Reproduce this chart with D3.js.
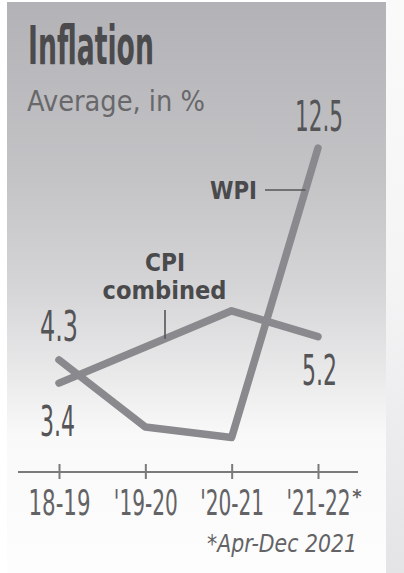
<!DOCTYPE html>
<html><head><meta charset="utf-8">
<script src="https://cdn.jsdelivr.net/npm/d3@7"></script>
<style>
html,body{margin:0;padding:0;background:#fff;}
svg{display:block;}
text{font-family:"Liberation Sans Narrow","DejaVu Sans Condensed","Roboto",sans-serif;}
</style></head>
<body>
<svg id="c" width="404" height="573"></svg>
<script>
const categories = ["18-19", "'19-20", "'20-21", "'21-22"];
const wpi = [4.3, 1.7, 1.3, 12.5];
const cpi = [3.4, 4.8, 6.2, 5.2];
const title = "Inflation";
const subtitle = "Average, in %";
const footnote = "*Apr-Dec 2021";

const svg = d3.select("#c");
const defs = svg.append("defs");
const g1 = defs.append("linearGradient").attr("id","panel").attr("x1",0).attr("y1",0).attr("x2",0).attr("y2",1);
[[0,"#b3b3b7"],[0.3,"#c3c3c6"],[0.5,"#d5d5d7"],[0.65,"#e9e9ea"],[0.76,"#f9f9f9"],[1,"#fdfdfd"]]
  .forEach(([o,c])=>g1.append("stop").attr("offset",o).attr("stop-color",c));
const g2 = defs.append("linearGradient").attr("id","strip").attr("x1",0).attr("y1",0).attr("x2",0).attr("y2",1);
[[0,"#fafafa"],[0.5,"#f4f4f5"],[1,"#e4e4e6"]]
  .forEach(([o,c])=>g2.append("stop").attr("offset",o).attr("stop-color",c));

svg.append("rect").attr("x",386).attr("y",0).attr("width",18).attr("height",573).attr("fill","url(#strip)");
svg.append("rect").attr("x",7).attr("y",2).attr("width",379).attr("height",571).attr("fill","url(#panel)");

const x = d3.scalePoint().domain(categories).range([59, 318]);
const y = d3.scaleLinear().domain([0, 12.5]).range([471, 148]);

// place text condensed horizontally to a target width
function fit(parent, txt, px, py, w, opts){
  const t = parent.append("text").text(txt)
    .attr("font-size",opts.size).attr("fill",opts.fill||"#58585b")
    .attr("font-weight",opts.weight||"normal")
    .attr("font-style",opts.style||"normal")
    .attr("text-anchor",opts.anchor||"start");
  const nat = t.node().getComputedTextLength();
  const k = w / nat;
  t.attr("transform",`translate(${px},${py}) scale(${k},1)`);
  return t;
}

// Title
fit(svg, title, 28, 64, 126, {size:54, weight:"bold", fill:"#4b4b4e"});
fit(svg, subtitle, 27, 111, 178, {size:29, fill:"#68686b"});

// Axis
svg.append("line").attr("x1",18).attr("x2",358).attr("y1",y(0)+1).attr("y2",y(0)+1)
  .attr("stroke","#7a7a7c").attr("stroke-width",2);
const axis = d3.axisBottom(x).tickSize(8).tickFormat("");
const ag = svg.append("g").attr("transform",`translate(0,${y(0)+1})`).call(axis);
ag.select(".domain").remove();
ag.selectAll(".tick line").attr("y1",-8).attr("y2",7).attr("stroke","#7a7a7c").attr("stroke-width",2);
ag.selectAll(".tick").each(function(d,i){
  fit(d3.select(this), d, 0, 43, i===0 ? 62 : 64, {size:36, fill:"#636366", anchor:"middle"});
});
// asterisk on last
svg.append("text").attr("x",x(categories[3])+39).attr("y",503).text("*")
  .attr("font-size",20).attr("font-weight","bold").attr("fill","#636366").attr("text-anchor","middle");

fit(svg, footnote, 357, 552, 150, {size:25, style:"italic", fill:"#636366", anchor:"end"});

// Lines
const line = d3.line().x((d,i)=>x(categories[i])).y(d=>y(d));
[cpi, wpi].forEach(s=>{
  svg.append("path").attr("d",line(s)).attr("fill","none")
    .attr("stroke","#8a8a8e").attr("stroke-width",7.5)
    .attr("stroke-linecap","round").attr("stroke-linejoin","round");
});

// Value labels
const lab = (txt,xx,yy,w)=>fit(svg, txt, xx, yy, w, {size:42, fill:"#555558"});
lab(wpi[3].toFixed(1), x(categories[3])-23, y(wpi[3])-17, 48);
lab(wpi[0].toFixed(1), x(categories[0])-19, y(wpi[0])-19, 38);
lab(cpi[0].toFixed(1), x(categories[0])-19, y(cpi[0])+53, 35);
lab(cpi[3].toFixed(1), x(categories[3])-16, y(cpi[3])+48, 35);

// Series labels
const bl = (txt,xx,yy,w,anchor)=>fit(svg, txt, xx, yy, w, {size:24, weight:"bold", fill:"#4a4a4d", anchor:anchor||"start"});
bl("WPI",210,199,47);
bl("CPI",165,271,40,"middle");
bl("combined",164.5,299,124,"middle");

// leaders
const wy = 190;
const wx = x(categories[2]) + (x(categories[3])-x(categories[2]))*(y(wpi[2])-wy)/(y(wpi[2])-y(wpi[3]));
svg.append("line").attr("x1",265).attr("x2",wx).attr("y1",wy).attr("y2",wy)
  .attr("stroke","#555558").attr("stroke-width",1.6);
const cx = 165;
const cy = y(cpi[0]) + (y(cpi[2])-y(cpi[0]))*(cx-x(categories[0]))/(x(categories[2])-x(categories[0]));
svg.append("line").attr("x1",cx).attr("x2",cx).attr("y1",310).attr("y2",cy)
  .attr("stroke","#555558").attr("stroke-width",1.6);
</script>
</body></html>
